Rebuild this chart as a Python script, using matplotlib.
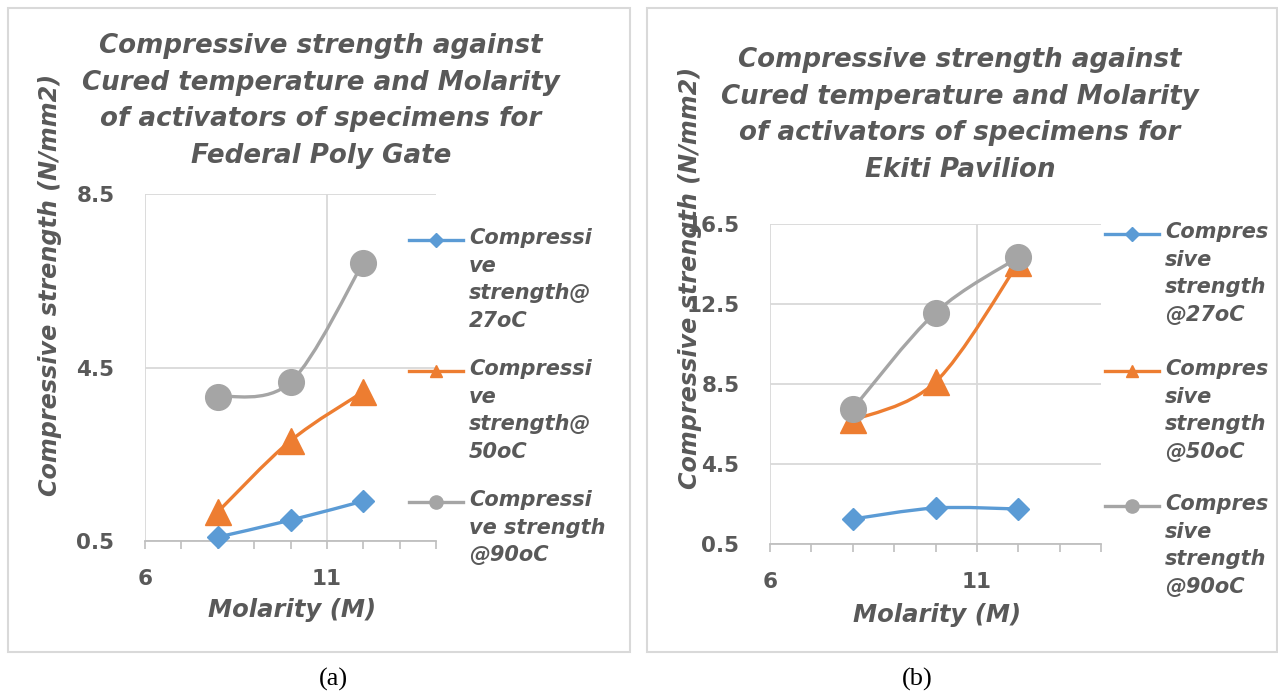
import matplotlib
matplotlib.use("Agg")
import matplotlib.pyplot as plt
from matplotlib.path import Path
from matplotlib.patches import PathPatch, Rectangle
from matplotlib.lines import Line2D
from matplotlib.ticker import FixedLocator, MultipleLocator

# data
molarity = [8, 10, 12]

poly_27 = [0.59, 0.98, 1.42]
poly_50 = [1.17, 2.81, 3.94]
poly_90 = [3.83, 4.16, 6.92]

ekiti_27 = [1.75, 2.30, 2.25]
ekiti_50 = [6.68, 8.60, 14.54]
ekiti_90 = [7.26, 12.07, 14.83]

x_ticks = [6, 11]
y_ticks_a = [0.5, 4.5, 8.5]
y_ticks_b = [0.5, 4.5, 8.5, 12.5, 16.5]

title_a = "Compressive strength against\nCured temperature and Molarity\nof activators of specimens for\nFederal Poly Gate"
title_b = "Compressive strength against\nCured temperature and Molarity\nof activators of specimens for\nEkiti Pavilion"
labels_a = ["Compressi\nve\nstrength@\n27oC", "Compressi\nve\nstrength@\n50oC", "Compressi\nve strength\n@90oC"]
labels_b = ["Compres\nsive\nstrength\n@27oC", "Compres\nsive\nstrength\n@50oC", "Compres\nsive\nstrength\n@90oC"]
ylabel = "Compressive strength (N/mm2)"
xlabel = "Molarity (M)"

BLUE, ORANGE, GREY = "#5B9BD5", "#ED7D31", "#A5A5A5"
TXT = "#595959"
GRID = "#D9D9D9"

W, H = 1278, 693
fig = plt.figure(figsize=(W / 100, H / 100), dpi=100)


def fx(px):
    return px / W


def fy(py):
    return 1 - py / H


def smooth_path(xs, ys):
    """Excel-like smoothed line: cubic bezier through the points"""
    pts = list(zip(xs, ys))
    verts = [pts[0]]
    codes = [Path.MOVETO]
    n = len(pts)
    for i in range(n - 1):
        p0 = pts[max(i - 1, 0)]
        p1 = pts[i]
        p2 = pts[i + 1]
        p3 = pts[min(i + 2, n - 1)]
        c1 = (p1[0] + (p2[0] - p0[0]) / 6, p1[1] + (p2[1] - p0[1]) / 6)
        c2 = (p2[0] - (p3[0] - p1[0]) / 6, p2[1] - (p3[1] - p1[1]) / 6)
        verts += [c1, c2, p2]
        codes += [Path.CURVE4] * 3
    return Path(verts, codes)


def panel(box, ax_px, yticks, series, title, title_xy, ylab_xy, xlab_xy, leg_x, leg_y, labels):
    # panel border
    x0, y0, x1, y1 = box
    fig.add_artist(Rectangle((fx(x0), fy(y1)), fx(x1) - fx(x0), fy(y0) - fy(y1),
                             transform=fig.transFigure, fill=False, ec=GRID, lw=1.5))

    l, t, r, b = ax_px
    ax = fig.add_axes([fx(l), fy(b), fx(r) - fx(l), fy(t) - fy(b)])
    ax.set_xlim(6, 14)
    ax.set_ylim(yticks[0], yticks[-1])
    ax.xaxis.set_major_locator(FixedLocator(x_ticks))
    ax.xaxis.set_minor_locator(MultipleLocator(1))
    ax.yaxis.set_major_locator(FixedLocator(yticks))
    ax.xaxis.set_major_formatter(lambda v, p: f"{v:g}")
    ax.yaxis.set_major_formatter(lambda v, p: f"{v:.1f}")
    for s in ["top", "right", "left"]:
        ax.spines[s].set_visible(False)
    ax.spines["bottom"].set_color("#BFBFBF")
    ax.spines["bottom"].set_linewidth(1.3)
    ax.grid(True, which="major", color=GRID, lw=1.3)
    ax.set_axisbelow(True)
    ax.tick_params(axis="x", which="both", length=6, width=1.2, color="#BFBFBF",
                   direction="out", pad=14)
    ax.tick_params(axis="y", length=0, pad=22)
    for lab in ax.get_xticklabels() + ax.get_yticklabels():
        lab.set_fontsize(15.5)
        lab.set_fontweight("bold")
        lab.set_color(TXT)

    markers = [("D", 11.5), ("^", 19), ("o", 18.5)]
    colors = [BLUE, ORANGE, GREY]
    for ys, c, (m, ms) in zip(series, colors, markers):
        ax.add_patch(PathPatch(smooth_path(molarity, ys), fill=False, ec=c, lw=2.4,
                               capstyle="round", zorder=2))
        ax.plot(molarity, ys, ls="none", marker=m, ms=ms, color=c, mec=c, zorder=3,
                clip_on=False)

    fig.text(fx(title_xy[0]), fy(title_xy[1]), title, ha="center", va="center",
             fontsize=18.8, fontweight="bold", style="italic", color=TXT, linespacing=1.52)
    fig.text(fx(ylab_xy[0]), fy(ylab_xy[1]), ylabel, ha="center", va="center", rotation=90,
             fontsize=17.2, fontweight="bold", style="italic", color=TXT)
    fig.text(fx(xlab_xy[0]), fy(xlab_xy[1]), xlabel, ha="center", va="center",
             fontsize=17.5, fontweight="bold", style="italic", color=TXT)

    # legend drawn by hand so each marker sits on the first text line
    leg_m = [("D", 7.5), ("^", 9), ("o", 9.5)]
    for yy, c, (m, ms), lab in zip(leg_y, colors, leg_m, labels):
        fig.add_artist(Line2D([fx(leg_x), fx(leg_x + 54)], [fy(yy), fy(yy)],
                              transform=fig.transFigure, color=c, lw=2.4))
        fig.add_artist(Line2D([fx(leg_x + 27)], [fy(yy)], transform=fig.transFigure,
                              marker=m, ms=ms, color=c, ls="none"))
        fig.text(fx(leg_x + 60), fy(yy - 12), lab, ha="left", va="top", fontsize=15,
                 fontweight="bold", style="italic", color=TXT, linespacing=1.48)
    return ax


panel((8, 8, 630, 652), (145, 194, 436, 541), y_ticks_a, [poly_27, poly_50, poly_90],
      title_a, (321, 101), (50, 285), (292, 610), 409, [240, 371, 502], labels_a)
panel((647, 8, 1277, 652), (770, 224, 1101, 544), y_ticks_b, [ekiti_27, ekiti_50, ekiti_90],
      title_b, (960, 115), (690, 278), (937, 615), 1105, [234, 371, 506], labels_b)

fig.text(fx(333), fy(679), "(a)", ha="center", va="center", fontsize=19,
         family="Liberation Serif", color="black")
fig.text(fx(917), fy(679), "(b)", ha="center", va="center", fontsize=19,
         family="Liberation Serif", color="black")

fig.savefig("out.png", dpi=100, facecolor="white")
